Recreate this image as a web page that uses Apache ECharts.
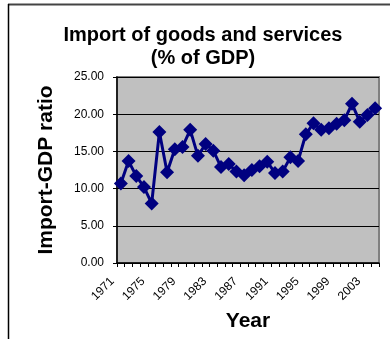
<!DOCTYPE html>
<html>
<head>
<meta charset="utf-8">
<script src="https://cdn.jsdelivr.net/npm/echarts@6/dist/echarts.min.js"></script>
<style>
  html, body { margin: 0; padding: 0; background: #fff; }
  #chart { width: 390px; height: 339px; }
</style>
</head>
<body>
<div id="chart"></div>
<script>
// Years on the category axis
const years = [];
for (let y = 1971; y <= 2004; y++) years.push(String(y));

// Imports of goods and services, % of GDP
const importRatio = [
  10.7, 13.7, 11.7, 10.2, 8.0, 17.6, 12.2, 15.3, 15.6, 17.9,
  14.4, 16.0, 15.1, 12.9, 13.3, 12.3, 11.8, 12.5, 13.0, 13.6,
  12.1, 12.3, 14.2, 13.7, 17.3, 18.8, 17.9, 18.1, 18.7, 19.2,
  21.4, 19.0, 19.9, 20.8
];

// Value axis ticks
const yTicks = [0, 5, 10, 15, 20, 25];

const chart = echarts.init(document.getElementById('chart'), null, { renderer: 'canvas' });

const font = 'Arial, "Liberation Sans", sans-serif';

chart.setOption({
  animation: false,
  backgroundColor: '#ffffff',
  title: {
    text: 'Import of goods and services\n(% of GDP)',
    left: 198,
    textAlign: 'center',
    top: 19,
    textStyle: {
      fontFamily: font,
      fontSize: 20,
      fontWeight: 'bold',
      color: '#000',
      lineHeight: 23
    }
  },
  graphic: [
    // outer frame: top and left edges
    { type: 'line', shape: { x1: 8, y1: 4.5, x2: 390, y2: 4.5 }, style: { stroke: '#444', lineWidth: 2 } },
    { type: 'line', shape: { x1: 8.5, y1: 4, x2: 8.5, y2: 339 }, style: { stroke: '#000', lineWidth: 1.5 } }
  ],
  grid: {
    left: 117,
    right: 11,
    top: 77,
    bottom: 76,
    show: true,
    backgroundColor: '#c0c0c0',
    borderColor: '#808080',
    borderWidth: 2
  },
  xAxis: {
    type: 'category',
    data: years,
    boundaryGap: true,
    name: 'Year',
    nameLocation: 'middle',
    nameGap: 48,
    nameTextStyle: { fontFamily: font, fontSize: 21, fontWeight: 'bold', color: '#000' },
    axisLine: { lineStyle: { color: '#000', width: 1.5 } },
    axisTick: { show: true, interval: 0, length: 4, lineStyle: { color: '#000' } },
    axisLabel: {
      interval: 3,
      rotate: 45,
      margin: 8,
      padding: [0, 12, 0, 0],
      fontFamily: font,
      fontSize: 12,
      color: '#000'
    },
    splitLine: { show: false }
  },
  yAxis: {
    type: 'value',
    min: yTicks[0],
    max: yTicks[yTicks.length - 1],
    interval: yTicks[1] - yTicks[0],
    name: 'Import-GDP ratio',
    nameLocation: 'middle',
    nameRotate: 90,
    nameGap: 60,
    nameTextStyle: { fontFamily: font, fontSize: 21, fontWeight: 'bold', color: '#000' },
    axisLine: { show: true, lineStyle: { color: '#000', width: 1.5 } },
    axisTick: { show: true, length: 4, lineStyle: { color: '#000' } },
    axisLabel: {
      margin: 13,
      fontFamily: font,
      fontSize: 12,
      color: '#000',
      formatter: v => v.toFixed(2)
    },
    splitLine: { show: true, lineStyle: { color: '#000', width: 1 } }
  },
  series: [{
    type: 'line',
    data: importRatio,
    symbol: 'diamond',
    symbolSize: 14,
    showAllSymbol: true,
    itemStyle: { color: '#000080' },
    lineStyle: { color: '#000080', width: 3 }
  }]
});
</script>
</body>
</html>
